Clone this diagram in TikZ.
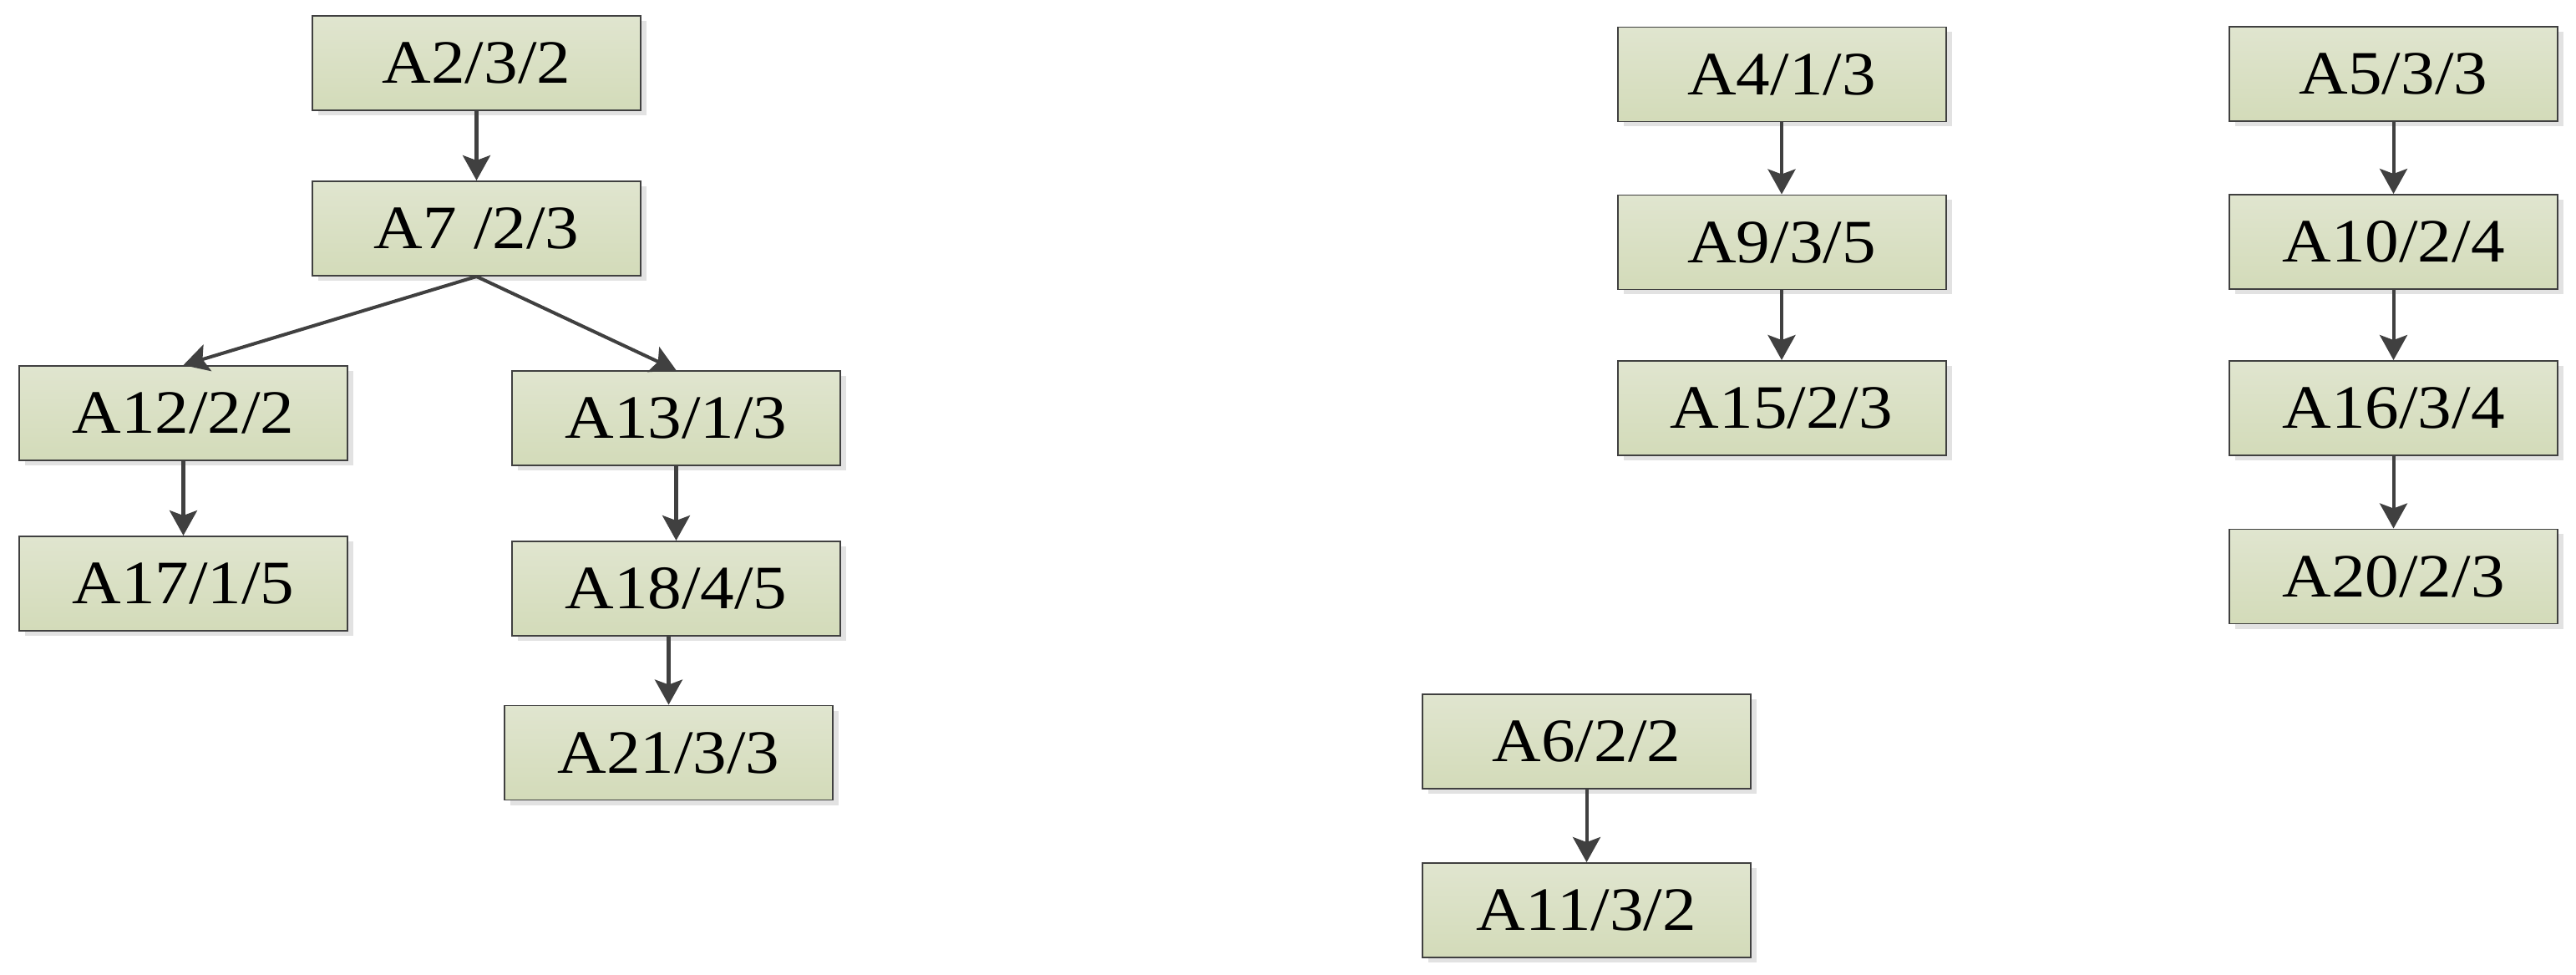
\documentclass[tikz,border=0pt]{standalone}
\usepackage{fontspec}
\setmainfont{Liberation Serif}[FakeStretch=1.1]
\usepackage{tikz}
\usetikzlibrary{arrows.meta,shadows,calc}
\definecolor{boxtop}{HTML}{E0E5CF}
\definecolor{boxbot}{HTML}{D3DBB9}
\definecolor{edgegray}{HTML}{404040}
\definecolor{shadowgray}{HTML}{E2E2E2}
\newcommand{\boxwidth}{3.93cm}
\newcommand{\boxheight}{1.13cm}
\tikzset{
  task/.style={draw=edgegray, line width=0.55pt, top color=boxtop, bottom color=boxbot,
    minimum width=\boxwidth, minimum height=\boxheight, inner sep=0pt,
    font=\fontsize{21}{25}\selectfont,
    drop shadow={shadow xshift=0.07cm, shadow yshift=-0.06cm, fill=shadowgray, opacity=1}},
  flow/.style={draw=edgegray, line width=1.15pt,
    -{Stealth[length=0.3cm, width=0.33cm, inset=0.06cm]}}
}

\begin{document}
\begin{tikzpicture}
	% The frame:
	\useasboundingbox (0,0) rectangle (30.84,-11.67);
	% First tree:
	\node[task] (a2)  at (5.705,-0.755) {A2/3/2};
	\node[task] (a7)  at (5.705,-2.735) {A7 /2/3};
	\node[task] (a12) at (2.195,-4.945) {A12/2/2};
	\node[task] (a17) at (2.195,-6.985) {A17/1/5};
	\node[task] (a13) at (8.095,-5.005) {A13/1/3};
	\node[task] (a18) at (8.095,-7.045) {A18/4/5};
	\node[task] (a21) at (8.005,-9.010) {A21/3/3};
	\draw[flow] (a2) -- (a7);
	\draw[flow] (a7.south) -- (a12.north);
	\draw[flow] (a7.south) -- (a13.north);
	\draw[flow] (a12) -- (a17);
	\draw[flow] (a13) -- (a18);
	\draw[flow] (a18.south -| a21.north) -- (a21.north);
	% Chains on the right:
	\node[task] (a4)  at (21.33,-0.890) {A4/1/3};
	\node[task] (a9)  at (21.33,-2.900) {A9/3/5};
	\node[task] (a15) at (21.33,-4.885) {A15/2/3};
	\draw[flow] (a4) -- (a9);
	\draw[flow] (a9) -- (a15);
	\node[task] (a5)  at (28.655,-0.885) {A5/3/3};
	\node[task] (a10) at (28.655,-2.895) {A10/2/4};
	\node[task] (a16) at (28.655,-4.885) {A16/3/4};
	\node[task] (a20) at (28.655,-6.900) {A20/2/3};
	\draw[flow] (a5) -- (a10);
	\draw[flow] (a10) -- (a16);
	\draw[flow] (a16) -- (a20);
	\node[task] (a6)  at (18.995,-8.875)  {A6/2/2};
	\node[task] (a11) at (18.995,-10.895) {A11/3/2};
	\draw[flow] (a6) -- (a11);
\end{tikzpicture}
\end{document}
